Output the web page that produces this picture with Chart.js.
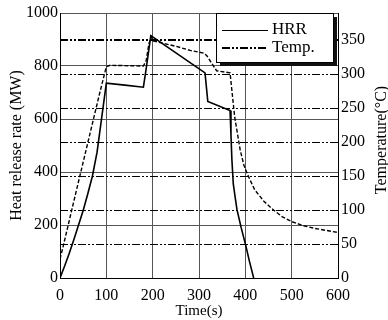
<!DOCTYPE html>
<html>
<head>
<meta charset="utf-8">
<script src="https://cdn.jsdelivr.net/npm/chart.js@4.4.1/dist/chart.umd.min.js"></script>
<style>
html, body { margin: 0; padding: 0; background: #fff; }
</style>
</head>
<body>
<canvas id="chart" width="388" height="320"></canvas>
<script>
// heat release rate (MW) vs time (s)
const hrrTime = [0, 10, 20, 30, 40, 50, 60, 70, 80, 90, 100, 140, 180, 186, 196, 313, 319, 367, 369, 371, 374, 378, 382, 391, 401, 409, 418];
const hrrValue = [0, 45, 93, 145, 200, 255, 318, 385, 475, 605, 735, 728, 720, 790, 915, 774, 666, 632, 540, 446, 355, 305, 258, 190, 122, 62, 0];

// gas temperature (°C) vs time (s)
const tempTime = [0, 7, 25, 40, 60, 74, 86, 100, 108, 180, 186, 192, 197, 201, 250, 281, 310, 317, 338, 367, 377, 389, 397, 405, 420, 440, 461, 480, 500, 525, 550, 575, 600];
const tempValue = [28, 47, 99, 142, 199, 239, 273, 311, 313, 312, 320, 345, 355, 349, 341, 335, 331, 327, 305, 302, 237, 188, 166, 152, 130, 113, 100, 90, 83, 77, 73, 70, 67];

const xTicks = [0, 100, 200, 300, 400, 500, 600];
const hrrTicks = [0, 200, 400, 600, 800, 1000];
const tempTicks = [0, 50, 100, 150, 200, 250, 300, 350];

const serif = "'Liberation Serif', 'Times New Roman', serif";
const dashDot = [8, 2, 2, 2, 2, 2];

const legendBox = {
    id: 'legendBox',
    afterDraw(chart) {
        const ctx = chart.ctx;
        const a = chart.chartArea;
        const x = a.right - 122, y = a.top, w = 117, h = 49;
        ctx.save();
        ctx.fillStyle = '#111';
        ctx.fillRect(x + 4, y + 4, w, h);
        ctx.fillStyle = '#fff';
        ctx.fillRect(x, y, w, h);
        ctx.strokeStyle = '#000';
        ctx.lineWidth = 1;
        ctx.strokeRect(x + 0.5, y + 0.5, w, h);

        ctx.beginPath();
        ctx.moveTo(x + 6, y + 17.5);
        ctx.lineTo(x + 52, y + 17.5);
        ctx.stroke();

        ctx.lineWidth = 2;
        ctx.setLineDash(dashDot);
        ctx.beginPath();
        ctx.moveTo(x + 6, y + 35);
        ctx.lineTo(x + 52, y + 35);
        ctx.stroke();
        ctx.setLineDash([]);

        ctx.fillStyle = '#000';
        ctx.font = '17px ' + serif;
        ctx.textBaseline = 'middle';
        ctx.textAlign = 'left';
        ctx.fillText('HRR', x + 56, y + 17);
        ctx.fillText('Temp.', x + 56, y + 35);

        // right axis title, reads bottom to top
        ctx.translate(382, 140);
        ctx.rotate(-Math.PI / 2);
        ctx.textAlign = 'center';
        ctx.font = '16px ' + serif;
        ctx.fillText('Temperature(°C)', 0, 0);
        ctx.restore();
    }
};

new Chart(document.getElementById('chart'), {
    type: 'line',
    data: {
        datasets: [
            {
                label: 'HRR',
                data: hrrTime.map((t, i) => ({ x: t, y: hrrValue[i] })),
                yAxisID: 'y',
                borderColor: '#000',
                borderWidth: 1.6,
                pointRadius: 0,
                tension: 0,
                fill: false
            },
            {
                label: 'Temp.',
                data: tempTime.map((t, i) => ({ x: t, y: tempValue[i] })),
                yAxisID: 'y1',
                borderColor: '#000',
                borderWidth: 1.4,
                borderDash: [4, 2],
                pointRadius: 0,
                tension: 0,
                fill: false
            }
        ]
    },
    options: {
        responsive: false,
        animation: false,
        layout: { padding: { top: 13, right: 0, bottom: 0, left: 0 } },
        plugins: {
            legend: { display: false },
            tooltip: { enabled: false }
        },
        scales: {
            x: {
                type: 'linear',
                min: 0,
                max: 600,
                afterBuildTicks: s => { s.ticks = xTicks.map(v => ({ value: v })); },
                afterFit: s => { s.height = 42; },
                ticks: { color: '#000', font: { family: serif, size: 16 }, padding: 8, maxRotation: 0, callback: v => String(v) },
                grid: { color: '#555', lineWidth: 1, drawTicks: false },
                border: { color: '#000', width: 1 },
                title: { display: true, text: 'Time(s)', color: '#000', font: { family: serif, size: 15 }, padding: 0 }
            },
            y: {
                position: 'left',
                min: 0,
                max: 1000,
                afterBuildTicks: s => { s.ticks = hrrTicks.map(v => ({ value: v })); },
                afterFit: s => { s.width = 60; },
                ticks: { color: '#000', font: { family: serif, size: 16 }, padding: 2, callback: v => String(v) },
                grid: { color: '#555', lineWidth: 1, drawTicks: false },
                border: { color: '#000', width: 1 },
                title: { display: true, text: 'Heat release rate (MW)', color: '#000', font: { family: serif, size: 16 }, padding: { top: 7, bottom: 0 } }
            },
            y1: {
                position: 'right',
                min: 0,
                max: 390,
                afterBuildTicks: s => { s.ticks = tempTicks.map(v => ({ value: v })); },
                afterFit: s => { s.width = 50; },
                ticks: { color: '#000', font: { family: serif, size: 16 }, padding: 3, callback: v => String(v) },
                grid: {
                    color: '#000',
                    lineWidth: c => (c.tick && c.tick.value === 350 ? 2 : 1),
                    drawTicks: false,
                    drawOnChartArea: true
                },
                border: { color: '#000', width: 1, dash: dashDot }
            }
        }
    },
    plugins: [legendBox]
});
</script>
</body>
</html>
